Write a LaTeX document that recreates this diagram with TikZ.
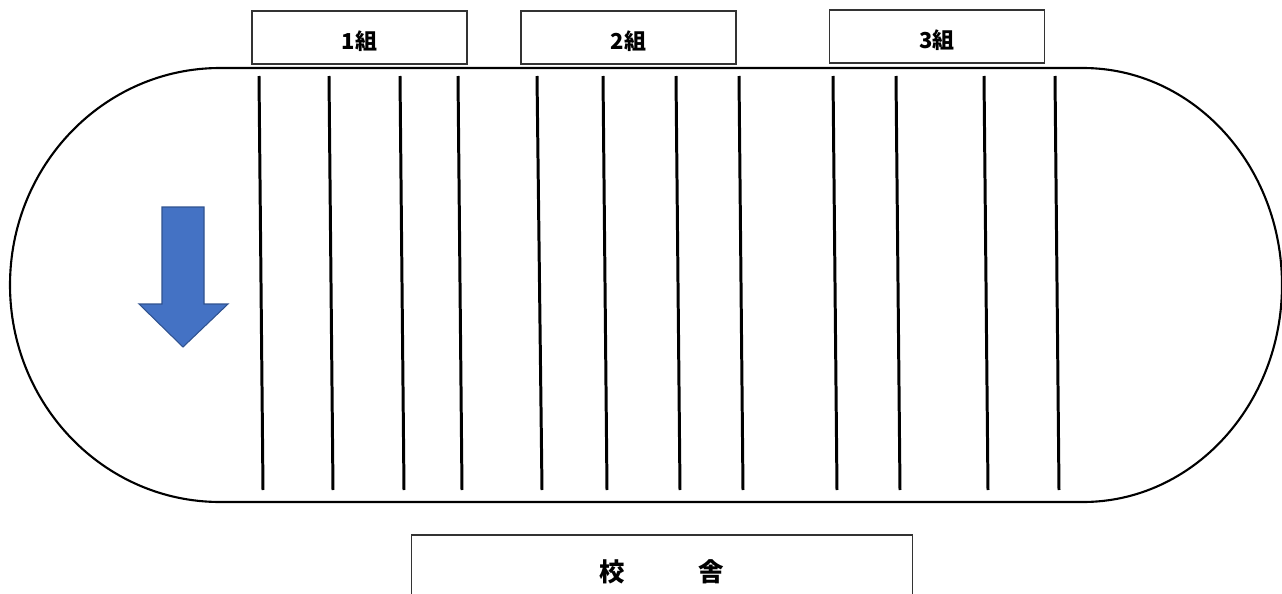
\documentclass[tikz,border=0pt]{standalone}
\usepackage{fontspec}
\newfontfamily\jpfont{Noto Sans CJK JP}
\usetikzlibrary{positioning}
\definecolor{arrowfill}{HTML}{4472C4}
\definecolor{arrowline}{HTML}{2F528F}

\begin{document}
\begin{tikzpicture}[
    x=0.02cm, y=0.02cm,
    track/.style={draw=black, line width=1.2pt},
    lane/.style={draw=black, line width=1.7pt},
    cls/.style={rectangle, draw=black!80, line width=0.6pt, minimum width=4.3cm, minimum height=1.06cm,
      text height=0.5cm, text depth=0pt,
      font=\jpfont\bfseries\fontsize{12.5}{15}\selectfont, inner sep=0pt},
    bldg/.style={rectangle, draw=black!80, line width=0.6pt, minimum width=10.04cm, minimum height=1.48cm,
      font=\jpfont\bfseries\fontsize{14.5}{17}\selectfont, inner sep=0pt},
    dirarrow/.style={fill=arrowfill, draw=arrowline, line width=0.6pt}
  ]
  \useasboundingbox (0,0) rectangle (1282,593);

  % track outline
  \draw[track] (220,525) -- (1083,525)
    arc[start angle=90, end angle=-90, x radius=199, y radius=217]
    -- (220,91)
    arc[start angle=270, end angle=90, x radius=210, y radius=217] -- cycle;

  % lanes (top x / bottom x)
  \foreach \t/\b in {259/263, 329/333, 400/404, 458/462, 537/542, 603/607,
                     676/680, 739/743, 833/837, 896/900, 984/988, 1055/1059}
    \draw[lane] (\t,517) -- (\b,103);

  % class boxes
  \node[cls] (c1) at (359.5,555.5) {1組};
  \node[cls] (c2) at (628.5,555.5) {2組};
  \node[cls] (c3) at (937,556.5) {3組};

  % school building
  \node[bldg] (school) at (662,21) {校\hspace{2.9em}舎};

  % direction arrow
  \draw[dirarrow]
    (162,386) -- (204,386) -- (204,289) -- (228,289) -- (183,246)
    -- (139,289) -- (162,289) -- cycle;
\end{tikzpicture}
\end{document}
